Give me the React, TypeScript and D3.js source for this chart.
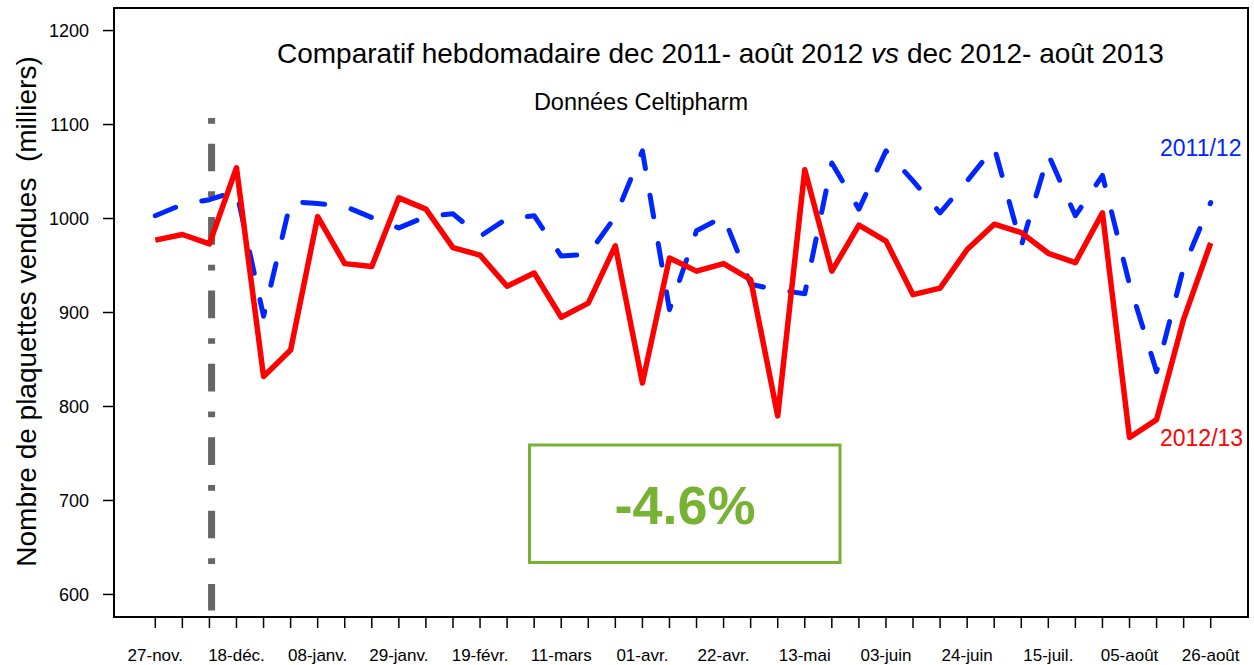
import React from "react";
import * as d3 from "d3";

// weekly sales, thousands of blister packs
const weeks = d3.range(40);
const tickLabels = [
  "27-nov.", "18-déc.", "08-janv.", "29-janv.", "19-févr.", "11-mars", "01-avr.",
  "22-avr.", "13-mai", "03-juin", "24-juin", "15-juil.", "05-août", "26-août",
];
const sales1112 = [
  1003, 1015, 1020, 1029, 896, 1018, 1016, 1013, 1001, 990,
  1002, 1005, 981, 1000, 1003, 960, 962, 1002, 1072, 903,
  987, 1002, 930, 924, 920, 1059, 1010, 1072, 1040, 1006,
  1040, 1076, 971, 1068, 1003, 1046, 930, 837, 948, 1017,
];
const sales1213 = [
  977, 983, 973, 1054, 832, 860, 1002, 952, 949, 1022,
  1010, 969, 961, 928, 942, 895, 910, 971, 825, 958,
  944, 952, 935, 790, 1052, 944, 993, 976, 919, 926,
  967, 994, 985, 963, 953, 1006, 767, 786, 893, 974,
];
const yTicks = [600, 700, 800, 900, 1000, 1100, 1200];
const markerWeek = 2.08;
const markerRange = [583, 1107];

const W = 1254;
const H = 665;
const font = "'Liberation Sans', Arial, sans-serif";
const green = "#77b232";

const App = () => {
  const left = 114, right = 1248, top = 8, bottom = 617;
  const x = d3.scaleLinear().domain([0, 39]).range([155.3, 1210.7]);
  const y = d3.scaleLinear().domain([576, 1224]).range([bottom, top]);

  const line = d3
    .line<number>()
    .x((d, i) => x(weeks[i]))
    .y((d) => y(d));

  return (
    <svg width={W} height={H} style={{ position: "absolute", left: 0, top: 0 }} fontFamily={font}>
      <rect width={W} height={H} fill="white" />

      {/* vertical marker */}
      <line
        x1={x(markerWeek)} x2={x(markerWeek)}
        y1={y(markerRange[1])} y2={y(markerRange[0])}
        stroke="#666" strokeWidth={7} strokeDasharray="5.7 20 27.7 20"
      />

      <path d={line(sales1112) || ""} fill="none" stroke="#0026ff" strokeWidth={5}
        strokeDasharray="22 27" strokeLinecap="round" strokeLinejoin="round" />
      <path d={line(sales1213) || ""} fill="none" stroke="#ff0000" strokeWidth={5.5}
        strokeLinejoin="round" />

      <rect x={left} y={top} width={right - left} height={bottom - top}
        fill="none" stroke="#000" strokeWidth={2} />

      {/* y axis */}
      {yTicks.map((t) => (
        <g key={t}>
          <line x1={103} x2={left} y1={y(t)} y2={y(t)} stroke="#000" strokeWidth={1.5} />
          <text x={89} y={y(t)} dy="0.36em" textAnchor="end" fontSize={18}>{t}</text>
        </g>
      ))}
      <text transform={`translate(36,311.5) rotate(-90)`} textAnchor="middle" fontSize={28}>
        Nombre de plaquettes vendues{"\u00a0\u00a0"}(milliers)
      </text>

      {/* x axis */}
      {weeks.map((w) => (
        <line key={w} x1={x(w)} x2={x(w)} y1={bottom} y2={628} stroke="#000" strokeWidth={1.5} />
      ))}
      {tickLabels.map((l, i) => (
        <text key={l} x={x(i * 3)} y={661} textAnchor="middle" fontSize={17}>{l}</text>
      ))}

      {/* titles */}
      <text x={277} y={63} fontSize={28}>
        Comparatif hebdomadaire dec 2011- août 2012 <tspan fontStyle="italic">vs</tspan> dec 2012- août 2013
      </text>
      <text x={641} y={110} textAnchor="middle" fontSize={23.5}>Données Celtipharm</text>

      <text x={1160} y={156} fontSize={23} fill="#0026ff">2011/12</text>
      <text x={1160} y={446} fontSize={23} fill="#ff0000">2012/13</text>

      {/* variation box */}
      <rect x={529.5} y={445} width={310.5} height={117.5} fill="none" stroke={green} strokeWidth={3} />
      <text x={685} y={524} textAnchor="middle" fontSize={54} fontWeight="bold" fill={green}>-4.6%</text>
    </svg>
  );
};

export default App;
